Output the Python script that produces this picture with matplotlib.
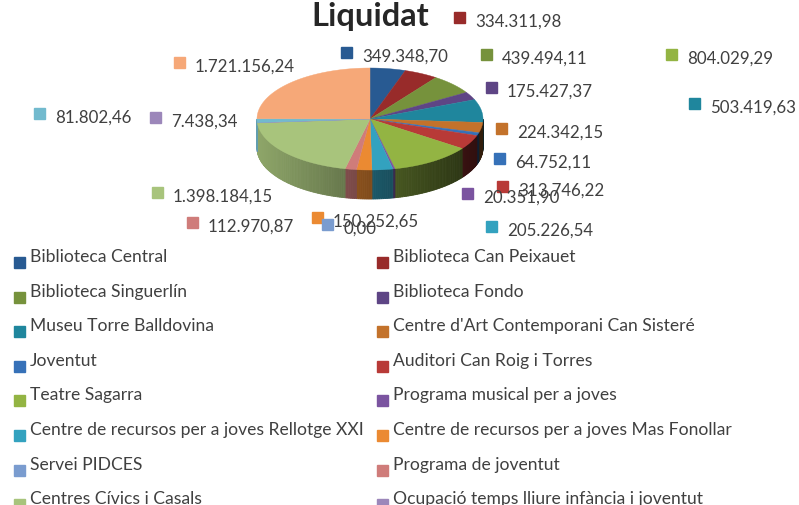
import numpy as np
import matplotlib.pyplot as plt
from matplotlib.patches import Rectangle
from matplotlib.colors import to_rgb

plt.rcParams['font.family'] = ['Lato', 'DejaVu Sans']

# data, in pie order (clockwise from 12 o'clock)
categories = [
    "Biblioteca Central", "Biblioteca Can Peixauet", "Biblioteca Singuerlín",
    "Biblioteca Fondo", "Museu Torre Balldovina", "Centre d'Art Contemporani Can Sisteré",
    "Joventut", "Auditori Can Roig i Torres", "Teatre Sagarra",
    "Programa musical per a joves", "Centre de recursos per a joves Rellotge XXI",
    "Centre de recursos per a joves Mas Fonollar", "Servei PIDCES",
    "Programa de joventut", "Centres Cívics i Casals",
    "Ocupació temps lliure infància i joventut", "", "",
]
values = [
    349348.70, 334311.98, 439494.11, 175427.37, 503419.63, 224342.15,
    64752.11, 313746.22, 804029.29, 20351.90, 205226.54, 150252.65,
    0.00, 112970.87, 1398184.15, 7438.34, 81802.46, 1721156.24,
]
colors = [
    "#285A92", "#982B2A", "#76923C", "#5E4585", "#1F869D", "#C3722B",
    "#3671B8", "#B83A37", "#93B443", "#7B54A0", "#33A2BF", "#EB8A32",
    "#7A9CCF", "#CF7C7A", "#A8C47C", "#9C87BA", "#72BACE", "#F6A878",
]

# where each data label sits (text left x, baseline y), in pixels
label_x = [362, 475, 502, 507, 710, 517, 515, 518, 687, 483, 507, 333, 343, 208, 173, 171, 55, 195]
label_y = [62, 27, 64, 97, 113, 138, 168, 196, 64, 203, 236, 227, 234, 232, 202, 127, 123, 72]


def fmt(v):
    s = f"{v:,.2f}"
    return s.replace(",", "X").replace(".", ",").replace("X", ".")


fig = plt.figure(figsize=(7.99, 5.06), dpi=100)
ax = fig.add_axes([0, 0, 1, 1])
ax.set_xlim(0, 799)
ax.set_ylim(506, 0)
ax.axis('off')

# tilted pie geometry
cx, cy = 370, 120
ra, rb = 113, 51
depth = 29

def ell(t):
    t = np.radians(t)
    return cx + ra * np.cos(t), cy - rb * np.sin(t)

total = sum(values)
cum = np.concatenate([[0], np.cumsum(values)])
starts = 90 - 360 * cum[:-1] / total
ends = 90 - 360 * cum[1:] / total

# side wall, front half only
for s, e, c in zip(starts, ends, colors):
    lo, hi = max(e, -180), min(s, 0)
    if hi <= lo:
        continue
    ts = np.linspace(lo, hi, max(2, int(hi - lo) + 2))
    base = np.array(to_rgb(c))
    for t1, t2 in zip(ts[:-1], ts[1:]):
        u = (np.cos(np.radians((t1 + t2) / 2)) + 1) / 2
        shade = base * (0.85 - 0.6 * u)
        x1, y1 = ell(t1)
        x2, y2 = ell(t2)
        ax.fill([x1, x2, x2, x1], [y1, y2, y2 + depth, y1 + depth],
                color=shade, lw=0.6, ec=shade)

# top face
for s, e, c in zip(starts, ends, colors):
    if s == e:
        continue
    ts = np.linspace(s, e, max(2, int(abs(s - e)) + 2))
    xs, ys = ell(ts)
    ax.fill(np.r_[cx, xs], np.r_[cy, ys], color=c, lw=0.3, ec=c)

# data labels
for v, c, x, y in zip(values, colors, label_x, label_y):
    ax.add_patch(Rectangle((x - 21, y - 14), 11, 11, color=c))
    ax.text(x, y, fmt(v), fontsize=12.2, color="#404040", va='baseline', ha='left')

ax.text(370, 26, "Liquidat", fontsize=23.5, fontweight='bold', color="#262626",
        ha='center', va='baseline')

# legend, two columns, row-wise
col_x = [14, 377]
for i, (name, c) in enumerate(zip(categories, colors)):
    row, col = divmod(i, 2)
    by = 262 + row * 34.6
    ax.add_patch(Rectangle((col_x[col], by - 4), 11, 11, color=c))
    ax.text(col_x[col] + 16, by, name, fontsize=12.6, color="#404040", va='baseline', ha='left')

fig.savefig("out.png", dpi=100)
